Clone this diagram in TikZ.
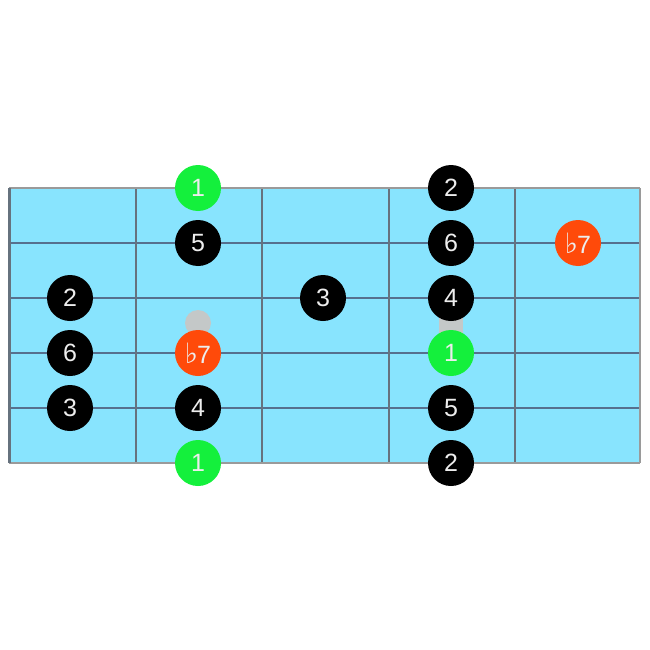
\documentclass[tikz,border=0pt]{standalone}
\usepackage{fontspec}
\setmainfont{Liberation Sans}
\newfontfamily\symfont{DejaVu Sans}
\definecolor{board}{HTML}{88E4FE}
\definecolor{strline}{HTML}{56708E}
\definecolor{fretline}{HTML}{66727E}
\definecolor{edge}{HTML}{9A9A9A}
\definecolor{notegreen}{HTML}{14F03C}
\definecolor{noteorange}{HTML}{FF4A0A}
\definecolor{marker}{HTML}{C4C8C8}
\definecolor{notetext}{HTML}{EDEDED}
\tikzset{
  note/.style={circle, minimum size=46pt, inner sep=0pt, text=notetext, font=\fontsize{25}{25}\selectfont},
  blk/.style={note, fill=black},
  grn/.style={note, fill=notegreen},
  org/.style={note, fill=noteorange},
}
\newcommand{\flatsev}{{\symfont\fontsize{28}{28}\selectfont ♭}\kern-1pt 7}
\begin{document}
\begin{tikzpicture}[x=1pt,y=-1pt]
\useasboundingbox (0,0) rectangle (650,650);
\fill[white] (0,0) rectangle (650,650);
% board
\fill[board] (9,188) rectangle (640,463);
\foreach \y in {243,298,353,408}
  \draw[strline, line width=1.6pt] (9,\y) -- (640,\y);
\foreach \x in {136,262,389,515}
  \draw[fretline, line width=2.2pt] (\x,188) -- (\x,463);
\draw[edge, line width=1.6pt] (9,188) -- (640,188);
\draw[edge, line width=1.8pt] (9,463) -- (640,463);
\draw[edge, line width=1.8pt] (640,188) -- (640,463);
\draw[fretline, line width=3pt] (9,188) -- (9,463);
% markers
\fill[marker] (198,323) circle (13);
\fill[marker] (439,316) rectangle (463,336);
% column 1
\node[blk] (c1s3) at (70,298) {2};
\node[blk] (c1s4) at (70,353) {6};
\node[blk] (c1s5) at (70,408) {3};
% column 2
\node[grn] (c2s1) at (198,188) {1};
\node[blk] (c2s2) at (198,243) {5};
\node[org] (c2s4) at (198,353) {\flatsev};
\node[blk] (c2s5) at (198,408) {4};
\node[grn] (c2s6) at (198,463) {1};
% column 3
\node[blk] (c3s3) at (323,298) {3};
% column 4
\node[blk] (c4s1) at (451,188) {2};
\node[blk] (c4s2) at (451,243) {6};
\node[blk] (c4s3) at (451,298) {4};
\node[grn] (c4s4) at (451,353) {1};
\node[blk] (c4s5) at (451,408) {5};
\node[blk] (c4s6) at (451,463) {2};
% column 5
\node[org] (c5s2) at (578,243) {\flatsev};
\end{tikzpicture}
\end{document}
